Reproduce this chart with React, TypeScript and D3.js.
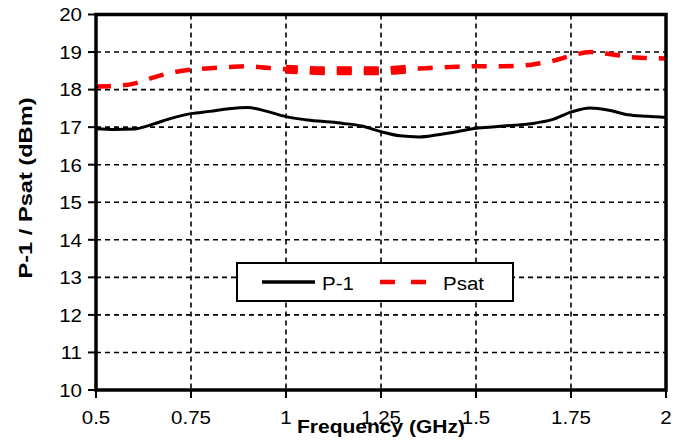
import React from "react";
import * as d3 from "d3";

const freq = [0.5, 0.55, 0.6, 0.65, 0.7, 0.75, 0.8, 0.85, 0.9, 0.95, 1.0, 1.05, 1.1, 1.15, 1.2, 1.25, 1.3, 1.35, 1.4, 1.45, 1.5, 1.55, 1.6, 1.65, 1.7, 1.75, 1.8, 1.85, 1.9, 1.95, 2.0];
const p1 = [16.96, 16.94, 16.95, 17.08, 17.24, 17.36, 17.42, 17.49, 17.52, 17.42, 17.28, 17.2, 17.15, 17.1, 17.03, 16.88, 16.77, 16.74, 16.8, 16.88, 16.97, 17.01, 17.05, 17.1, 17.2, 17.4, 17.51, 17.45, 17.33, 17.29, 17.26];
const psat = [18.08, 18.1, 18.16, 18.32, 18.45, 18.53, 18.57, 18.6, 18.62, 18.58, 18.54, 18.52, 18.5, 18.5, 18.5, 18.5, 18.53, 18.56, 18.59, 18.61, 18.62, 18.62, 18.63, 18.67, 18.76, 18.9, 19.0, 18.95, 18.87, 18.84, 18.83];
const xTicks = [0.5, 0.75, 1, 1.25, 1.5, 1.75, 2];
const xTickLabels = ["0.5", "0.75", "1", "1.25", "1.5", "1.75", "2"];
const yTicks = [10, 11, 12, 13, 14, 15, 16, 17, 18, 19, 20];
const seriesNames = ["P-1", "Psat"];
const thickRange = [1.0, 1.33];

export default function App() {
  const x = d3.scaleLinear().domain([0.5, 2]).range([96, 666]);
  const y = d3.scaleLinear().domain([10, 20]).range([390, 14.5]);
  const line = d3
    .line<number>()
    .x((_, i) => x(freq[i]))
    .y((d) => y(d))
    .curve(d3.curveMonotoneX);
  const font = "Liberation Sans, Arial, sans-serif";
  const sx = 1.08;
  return (
    <svg width={683} height={443} style={{ position: "absolute", left: 0, top: 0, background: "#fff" }}>
      <defs>
        <clipPath id="thick">
          <rect x={x(thickRange[0])} y={0} width={x(thickRange[1]) - x(thickRange[0])} height={443} />
        </clipPath>
      </defs>
      <rect x={0} y={0} width={683} height={443} fill="#fff" />
      {/* grid */}
      {xTicks.slice(1, -1).map((t) => (
        <line key={"gx" + t} x1={x(t)} x2={x(t)} y1={y(20)} y2={y(10)} stroke="#000" strokeWidth={1.6} strokeDasharray="5 4" />
      ))}
      {yTicks.slice(1, -1).map((t) => (
        <line key={"gy" + t} x1={x(0.5)} x2={x(2)} y1={y(t)} y2={y(t)} stroke="#000" strokeWidth={1.6} strokeDasharray="5 4" />
      ))}
      {/* ticks */}
      {yTicks.map((t) => (
        <line key={"ty" + t} x1={88} x2={x(0.5)} y1={y(t)} y2={y(t)} stroke="#000" strokeWidth={2} />
      ))}
      {xTicks.map((t) => (
        <line key={"tx" + t} x1={x(t)} x2={x(t)} y1={y(10)} y2={398} stroke="#000" strokeWidth={2} />
      ))}
      {/* series */}
      <path d={line(p1) || ""} fill="none" stroke="#000" strokeWidth={3} />
      <path d={line(psat) || ""} fill="none" stroke="#ff0000" strokeWidth={4.5} strokeDasharray="15 12" />
      <path d={line(psat) || ""} fill="none" stroke="#ff0000" strokeWidth={9} strokeDasharray="15 12" clipPath="url(#thick)" />
      {/* frame */}
      <rect x={x(0.5)} y={y(20)} width={x(2) - x(0.5)} height={y(10) - y(20)} fill="none" stroke="#000" strokeWidth={3.5} />
      {/* tick labels */}
      {yTicks.map((t) => (
        <text key={"ly" + t} transform={`translate(82,${y(t) + 6.8}) scale(${sx},1)`} textAnchor="end" fontFamily={font} fontSize={19} fill="#000">
          {t}
        </text>
      ))}
      {xTicks.map((t, i) => (
        <text key={"lx" + t} transform={`translate(${x(t)},424) scale(${sx},1)`} textAnchor="middle" fontFamily={font} fontSize={19} fill="#000">
          {xTickLabels[i]}
        </text>
      ))}
      {/* axis titles */}
      <text x={381} y={433} textAnchor="middle" fontFamily={font} fontSize={19} fontWeight="bold" textLength={168} lengthAdjust="spacingAndGlyphs">
        Frequency (GHz)
      </text>
      <text transform="translate(32,188) rotate(-90)" textAnchor="middle" fontFamily={font} fontSize={18} fontWeight="bold" textLength={181} lengthAdjust="spacingAndGlyphs">
        P-1 / Psat (dBm)
      </text>
      {/* legend */}
      <rect x={237} y={263} width={276} height={38} fill="#fff" stroke="#000" strokeWidth={2} />
      <line x1={262} x2={315} y1={282} y2={282} stroke="#000" strokeWidth={3.5} />
      <text transform={`translate(322,290) scale(${sx},1)`} fontFamily={font} fontSize={19}>{seriesNames[0]}</text>
      <line x1={380} x2={426} y1={282} y2={282} stroke="#ff0000" strokeWidth={4.5} strokeDasharray="15 16" />
      <text transform={`translate(443,290) scale(${sx},1)`} fontFamily={font} fontSize={19}>{seriesNames[1]}</text>
    </svg>
  );
}
